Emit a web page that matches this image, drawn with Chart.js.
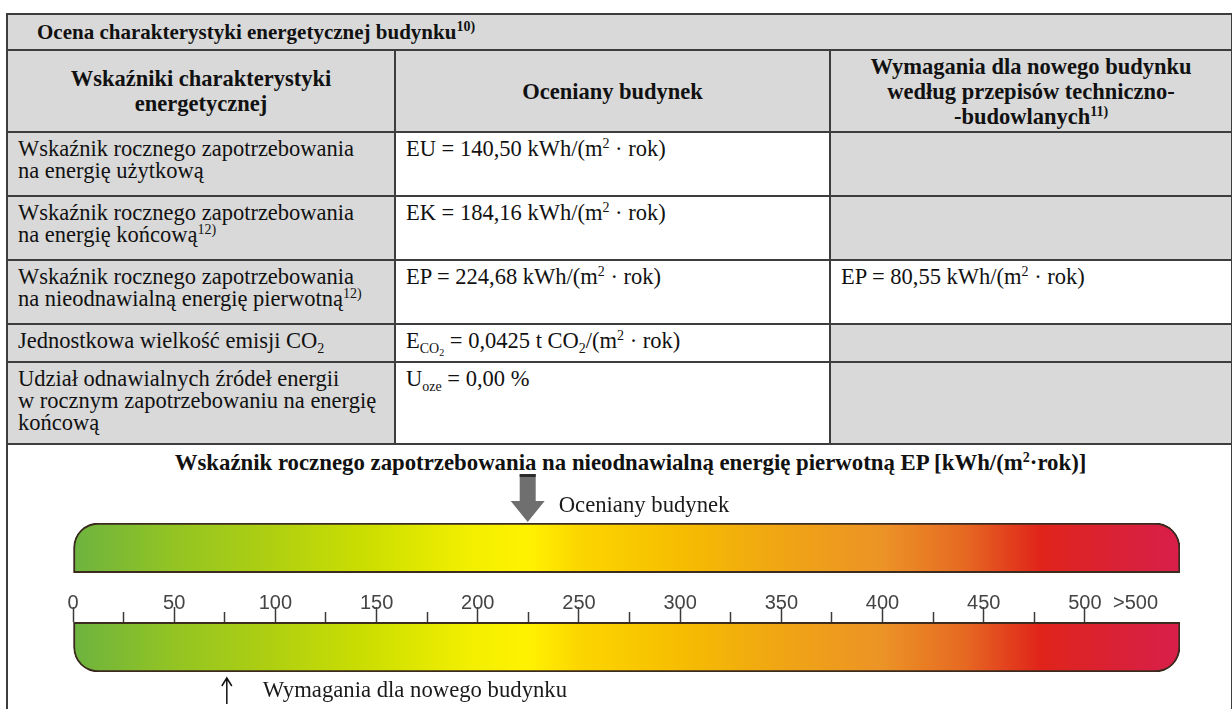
<!DOCTYPE html>
<html lang="pl">
<head>
<meta charset="utf-8">
<title>Ocena charakterystyki energetycznej budynku</title>
<script src="https://cdn.jsdelivr.net/npm/chart.js@4.4.1/dist/chart.umd.min.js"></script>
<style>
  html, body { margin: 0; padding: 0; background: #fff; }
  body { width: 1232px; height: 709px; overflow: hidden; position: relative;
         font-family: "Liberation Serif", "DejaVu Serif", serif; color: #111; }
  .grid { position: absolute; left: 6px; top: 13px; display: grid;
          grid-template-columns: 388px 435px 402px;
          grid-template-rows: 36px 82px 64px 64px 64px 38px 82px 300px;
          border-left: 2px solid #3d3d3d; border-top: 2px solid #3d3d3d; }
  .grid > div { box-sizing: border-box; border-right: 2px solid #3d3d3d; border-bottom: 2px solid #3d3d3d;
                font-size: 22.5px; line-height: 22px; padding: 5px 9px 0 10px; white-space: nowrap; }
  .gray { background: #d9d9d9; }
  .grid > .title { grid-column: 1 / 4; font-weight: bold; font-size: 21px; padding: 0 0 0 29px;
                   display: flex; align-items: center; }
  .grid > .head { font-weight: bold; text-align: center; line-height: 25px; padding: 0;
                  display: flex; align-items: center; justify-content: center; }
  .grid > .gauge { grid-column: 1 / 4; border-bottom: none; text-align: center; font-weight: bold;
                   font-size: 22.8px; padding: 5px 0 0 22px; line-height: 26px; }
  sup { font-size: 14px; line-height: 0; vertical-align: 8px; }
  sub { font-size: 14px; line-height: 0; vertical-align: -5px; }
  sub sub { font-size: 10px; vertical-align: -3px; }
  #chartBox { position: absolute; left: 0; top: 444px; width: 1232px; height: 265px; }
</style>
</head>
<body>
<div class="grid">
  <div class="gray title"><span>Ocena charakterystyki energetycznej budynku<sup>10)</sup></span></div>

  <div class="gray head"><span>Wskaźniki charakterystyki<br>energetycznej</span></div>
  <div class="gray head"><span>Oceniany budynek</span></div>
  <div class="gray head"><span>Wymagania dla nowego budynku<br>według przepisów techniczno-<br>-budowlanych<sup>11)</sup></span></div>

  <div class="gray">Wskaźnik rocznego zapotrzebowania<br>na energię użytkową</div>
  <div>EU = 140,50 kWh/(m<sup>2</sup> · rok)</div>
  <div class="gray"></div>

  <div class="gray">Wskaźnik rocznego zapotrzebowania<br>na energię końcową<sup>12)</sup></div>
  <div>EK = 184,16 kWh/(m<sup>2</sup> · rok)</div>
  <div class="gray"></div>

  <div class="gray">Wskaźnik rocznego zapotrzebowania<br>na nieodnawialną energię pierwotną<sup>12)</sup></div>
  <div>EP = 224,68 kWh/(m<sup>2</sup> · rok)</div>
  <div>EP = 80,55 kWh/(m<sup>2</sup> · rok)</div>

  <div class="gray">Jednostkowa wielkość emisji CO<sub>2</sub></div>
  <div>E<sub>CO<sub>2</sub></sub> = 0,0425 t CO<sub>2</sub>/(m<sup>2</sup> · rok)</div>
  <div class="gray"></div>

  <div class="gray">Udział odnawialnych źródeł energii<br>w rocznym zapotrzebowaniu na energię<br>końcową</div>
  <div>U<sub>oze</sub> = 0,00 %</div>
  <div class="gray"></div>

  <div class="gauge">Wskaźnik rocznego zapotrzebowania na nieodnawialną energię pierwotną EP [kWh/(m<sup>2</sup>·rok)]</div>
</div>

<div id="chartBox"><canvas id="chart"></canvas></div>

<script>
// scale of the EP indicator [kWh/(m2·rok)]
const scaleMin = 0;
const scaleMax = 547;
const barRows = ['pasek górny', 'oś', 'pasek dolny'];
const barRanges = [[0, 547], null, [0, 547]];
const tickValues = [0, 50, 100, 150, 200, 250, 300, 350, 400, 450, 500, 525];
const tickLabels = ['0', '50', '100', '150', '200', '250', '300', '350', '400', '450', '500', '>500'];
const minorTickValues = [25, 75, 125, 175, 225, 275, 325, 375, 425, 475];
const markerValues = [224.68, 76];
const markerLabels = ['Oceniany budynek', 'Wymagania dla nowego budynku'];

// colour stops along the bar (EP value -> colour)
const gradientStops = [0, 50, 100, 150, 195, 225, 250, 300, 350, 400, 440, 478, 510, 547];
const gradientColors = ['#6db33f', '#93c423', '#b0d010', '#cfe000', '#f2ef00', '#fff200', '#fcd600',
                        '#f6bd00', '#f0a514', '#ec9326', '#e66a22', '#e0241a', '#da2232', '#d91e4a'];

const serif = '"Liberation Serif", "DejaVu Serif", serif';

function scaleGradient(context){
    const chart = context.chart;
    const {ctx, chartArea, scales} = chart;
    if(!chartArea || !scales.x) return '#f0c000';
    const x0 = scales.x.getPixelForValue(scaleMin);
    const x1 = scales.x.getPixelForValue(scaleMax);
    const g = ctx.createLinearGradient(x0, 0, x1, 0);
    gradientStops.forEach((v, i) => {
        g.addColorStop((v - scaleMin) / (scaleMax - scaleMin), gradientColors[i]);
    });
    return g;
}

// arrows for the assessed building and the requirement
const markerPlugin = {
    id: 'markers',
    afterDraw(chart){
        const {ctx, chartArea, scales} = chart;
        ctx.save();

        const ax = scales.x.getPixelForValue(markerValues[0]);
        const tip = chartArea.top - 1;
        ctx.fillStyle = '#6f6f6f';
        ctx.beginPath();
        ctx.moveTo(ax - 8, tip - 48);
        ctx.lineTo(ax + 8, tip - 48);
        ctx.lineTo(ax + 8, tip - 21);
        ctx.lineTo(ax + 17, tip - 21);
        ctx.lineTo(ax, tip);
        ctx.lineTo(ax - 17, tip - 21);
        ctx.lineTo(ax - 8, tip - 21);
        ctx.closePath();
        ctx.fill();
        ctx.fillStyle = '#2b2b2b';
        ctx.fillRect(ax - 8, tip - 48, 16, 3);

        ctx.font = '22.7px ' + serif;
        ctx.fillStyle = '#1a1a1a';
        ctx.textBaseline = 'middle';
        ctx.textAlign = 'left';
        ctx.fillText(markerLabels[0], ax + 31, tip - 16);

        const rx = scales.x.getPixelForValue(markerValues[1]);
        const rt = chartArea.bottom + 6;
        ctx.strokeStyle = '#111';
        ctx.lineWidth = 1.5;
        ctx.beginPath();
        ctx.moveTo(rx, rt);
        ctx.lineTo(rx, rt + 26);
        ctx.moveTo(rx - 5, rt + 8);
        ctx.lineTo(rx, rt);
        ctx.lineTo(rx + 5, rt + 8);
        ctx.stroke();
        ctx.fillText(markerLabels[1], rx + 36, rt + 13);

        ctx.restore();
    }
};

const ctx = document.getElementById('chart').getContext('2d');

const chart = new Chart(ctx, {
    type: 'bar',
    data: {
        labels: barRows,
        datasets: [{
            label: 'EP',
            data: barRanges,
            backgroundColor: scaleGradient,
            borderColor: '#3b2a1e',
            borderWidth: 2,
            borderSkipped: false,
            borderRadius: (c) => c.dataIndex === 0
                ? {topLeft: 25, topRight: 25, bottomLeft: 0, bottomRight: 0}
                : {topLeft: 0, topRight: 0, bottomLeft: 25, bottomRight: 25},
            barPercentage: 1,
            categoryPercentage: 1
        }]
    },
    options: {
        indexAxis: 'y',
        responsive: true,
        maintainAspectRatio: false,
        animation: false,
        layout: { padding: { left: 73, right: 52, top: 79, bottom: 37 } },
        plugins: {
            legend: { display: false },
            tooltip: { enabled: false }
        },
        scales: {
            y: { type: 'category', display: false },
            x: {
                type: 'linear',
                min: scaleMin,
                max: scaleMax,
                position: { y: 1.5 },
                afterBuildTicks: (axis) => { axis.ticks = tickValues.map(v => ({value: v})); },
                ticks: {
                    autoSkip: false,
                    maxRotation: 0,
                    padding: -16,
                    z: 1,
                    color: '#444',
                    font: { family: '"Liberation Sans", "DejaVu Sans", sans-serif', size: 20 },
                    callback: (value, index) => tickLabels[index]
                },
                grid: {
                    drawOnChartArea: false,
                    tickLength: -15,
                    tickWidth: 1.5,
                    tickColor: (c) => (c.tick && c.tick.value > 500) ? 'rgba(0,0,0,0)' : '#3a3a3a'
                },
                border: { display: false }
            },
            x2: {
                type: 'linear',
                axis: 'x',
                min: scaleMin,
                max: scaleMax,
                position: { y: 1.5 },
                afterBuildTicks: (axis) => { axis.ticks = minorTickValues.map(v => ({value: v})); },
                ticks: { display: false },
                grid: {
                    drawOnChartArea: false,
                    tickLength: -10,
                    tickWidth: 1.5,
                    tickColor: '#3a3a3a'
                },
                border: { display: false }
            }
        }
    },
    plugins: [markerPlugin]
});
</script>
</body>
</html>
